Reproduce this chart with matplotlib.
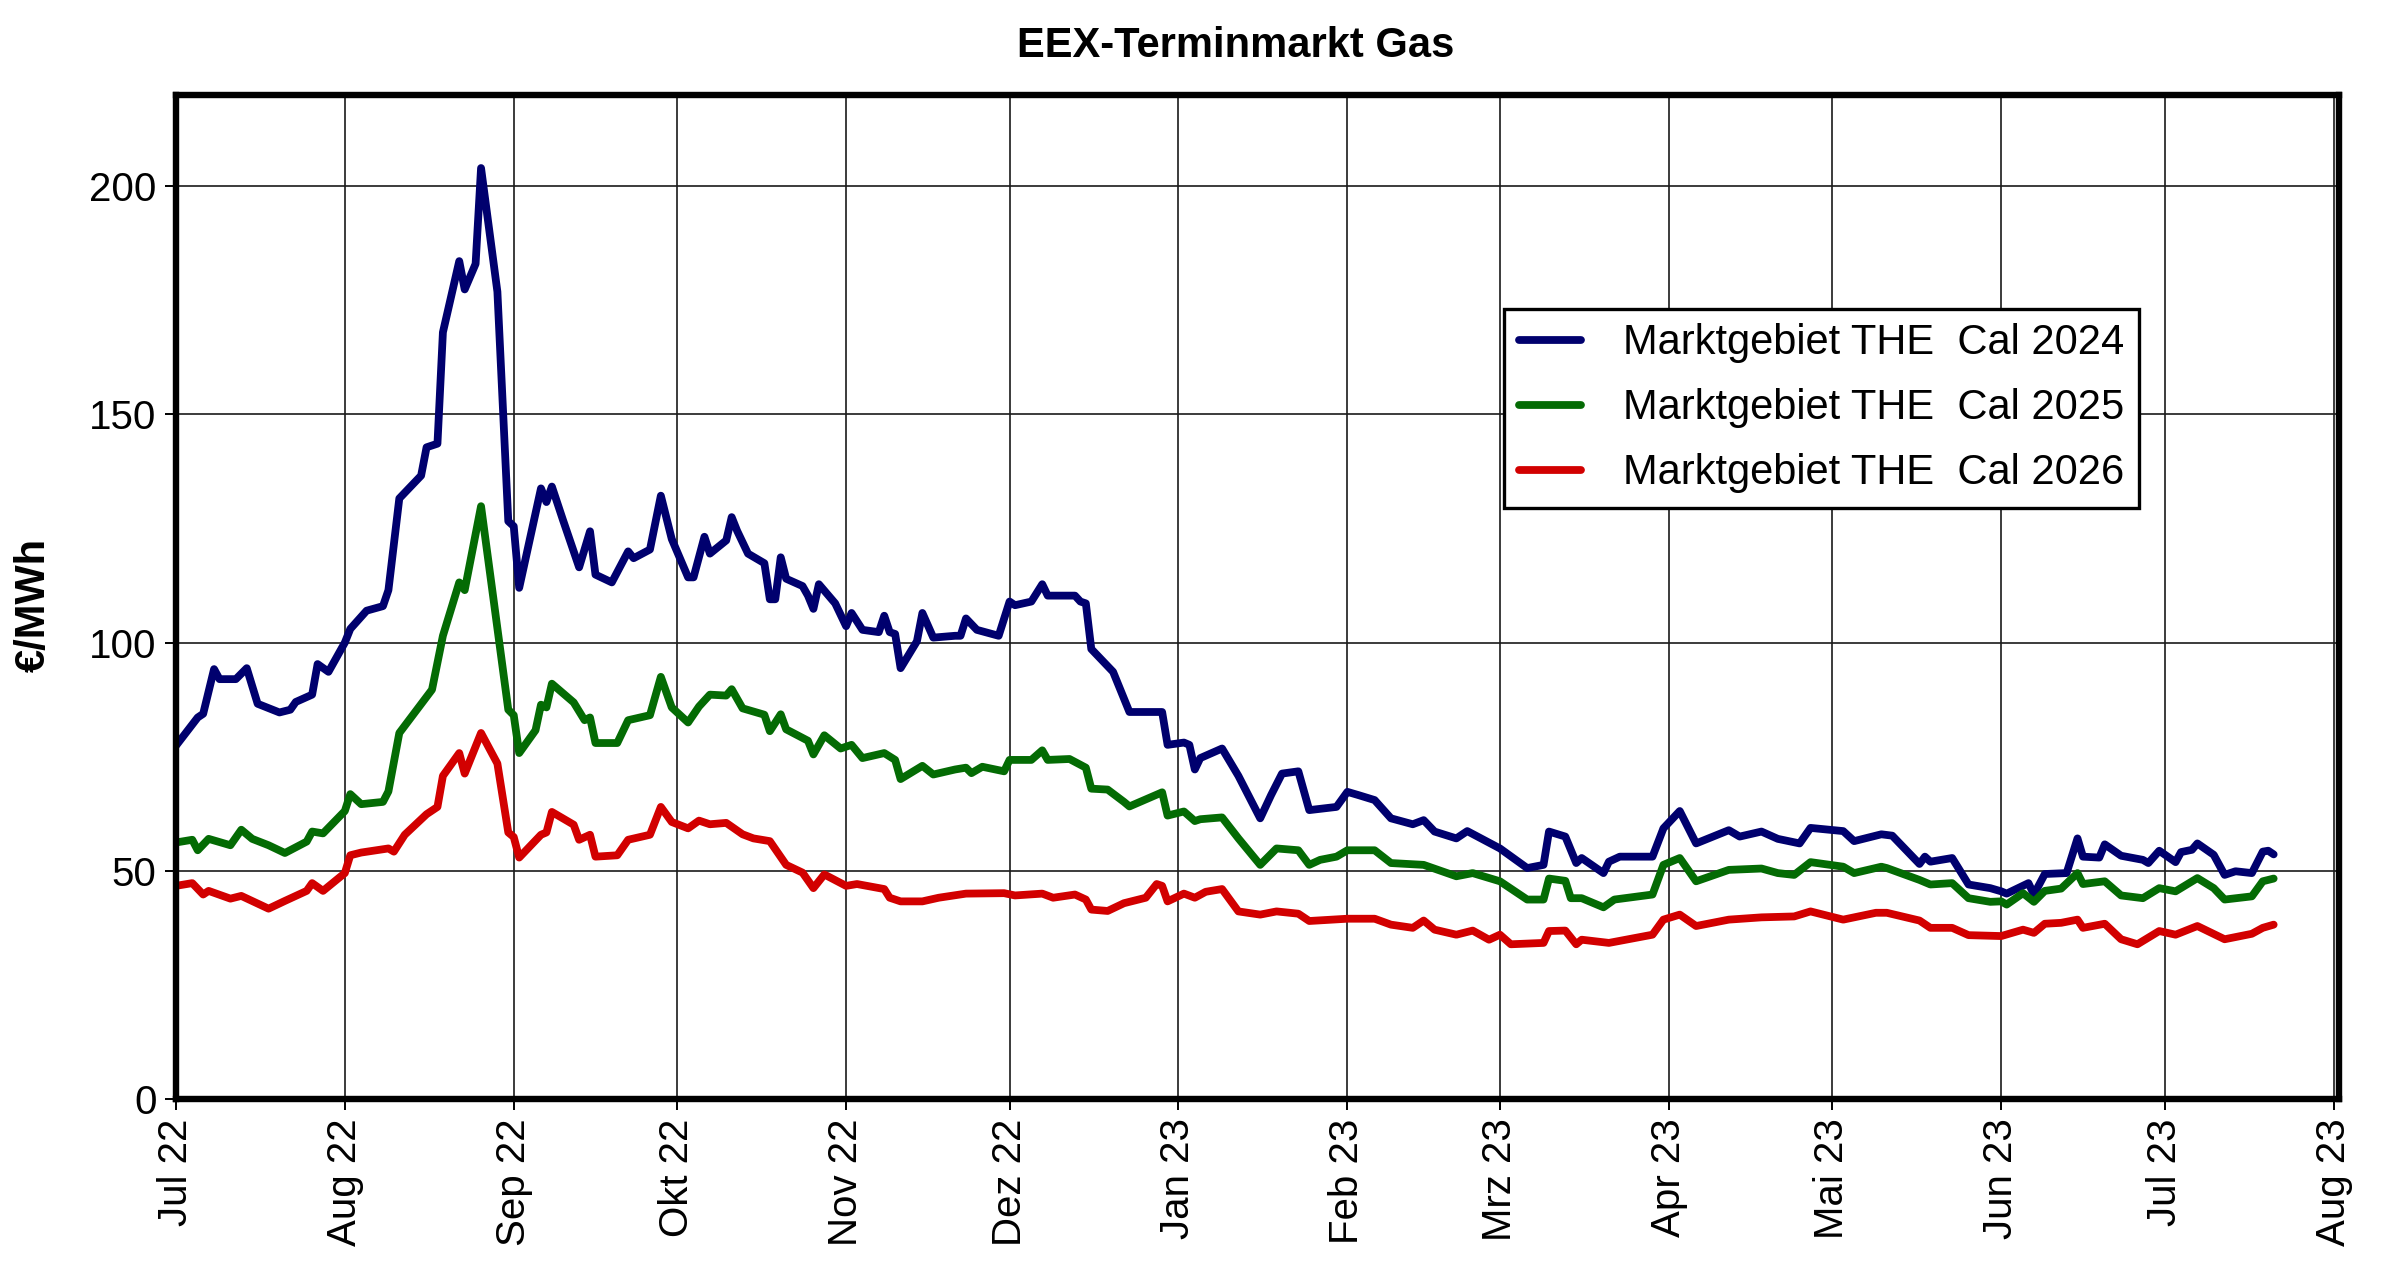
import matplotlib
matplotlib.use("Agg")
import matplotlib.pyplot as plt
import pandas as pd

plt.rcParams['font.family'] = ['Liberation Sans', 'DejaVu Sans']

title = "EEX-Terminmarkt Gas"
y_label = "€/MWh"
series_labels = ["Marktgebiet THE  Cal 2024", "Marktgebiet THE  Cal 2025", "Marktgebiet THE  Cal 2026"]
month_ticks = ["2022-07-01", "2022-08-01", "2022-09-01", "2022-10-01", "2022-11-01", "2022-12-01",
               "2023-01-01", "2023-02-01", "2023-03-01", "2023-04-01", "2023-05-01", "2023-06-01",
               "2023-07-01", "2023-08-01"]
month_labels = ["Jul 22", "Aug 22", "Sep 22", "Okt 22", "Nov 22", "Dez 22", "Jan 23", "Feb 23",
                "Mrz 23", "Apr 23", "Mai 23", "Jun 23", "Jul 23", "Aug 23"]
y_ticks = [0, 50, 100, 150, 200]

cal24_dates = ["2022-07-01", "2022-07-05", "2022-07-06", "2022-07-08", "2022-07-09", "2022-07-12", "2022-07-14",
    "2022-07-16", "2022-07-20", "2022-07-22", "2022-07-23", "2022-07-26", "2022-07-27", "2022-07-29",
    "2022-08-01", "2022-08-02", "2022-08-05", "2022-08-08", "2022-08-09", "2022-08-11", "2022-08-15",
    "2022-08-16", "2022-08-18", "2022-08-19", "2022-08-22", "2022-08-23", "2022-08-25", "2022-08-26",
    "2022-08-29", "2022-08-31", "2022-09-01", "2022-09-02", "2022-09-06", "2022-09-07", "2022-09-08",
    "2022-09-10", "2022-09-13", "2022-09-15", "2022-09-16", "2022-09-19", "2022-09-22", "2022-09-23",
    "2022-09-26", "2022-09-28", "2022-09-30", "2022-10-03", "2022-10-04", "2022-10-06", "2022-10-07",
    "2022-10-10", "2022-10-11", "2022-10-12", "2022-10-14", "2022-10-17", "2022-10-18", "2022-10-19",
    "2022-10-20", "2022-10-21", "2022-10-24", "2022-10-25", "2022-10-26", "2022-10-27", "2022-10-30",
    "2022-11-01", "2022-11-02", "2022-11-04", "2022-11-07", "2022-11-08", "2022-11-09", "2022-11-10",
    "2022-11-11", "2022-11-14", "2022-11-15", "2022-11-17", "2022-11-21", "2022-11-22", "2022-11-23",
    "2022-11-25", "2022-11-29", "2022-12-01", "2022-12-02", "2022-12-05", "2022-12-07", "2022-12-08",
    "2022-12-13", "2022-12-14", "2022-12-15", "2022-12-16", "2022-12-20", "2022-12-23", "2022-12-29",
    "2022-12-30", "2023-01-02", "2023-01-03", "2023-01-04", "2023-01-05", "2023-01-09", "2023-01-12",
    "2023-01-16", "2023-01-18", "2023-01-20", "2023-01-23", "2023-01-25", "2023-01-30", "2023-02-01",
    "2023-02-03", "2023-02-06", "2023-02-09", "2023-02-13", "2023-02-15", "2023-02-17", "2023-02-21",
    "2023-02-23", "2023-03-01", "2023-03-06", "2023-03-09", "2023-03-10", "2023-03-13", "2023-03-15",
    "2023-03-16", "2023-03-20", "2023-03-21", "2023-03-23", "2023-03-29", "2023-03-31", "2023-04-03",
    "2023-04-06", "2023-04-12", "2023-04-14", "2023-04-18", "2023-04-21", "2023-04-25", "2023-04-27",
    "2023-05-03", "2023-05-05", "2023-05-10", "2023-05-12", "2023-05-17", "2023-05-18", "2023-05-19",
    "2023-05-23", "2023-05-26", "2023-05-30", "2023-06-01", "2023-06-02", "2023-06-06", "2023-06-07",
    "2023-06-09", "2023-06-13", "2023-06-15", "2023-06-16", "2023-06-19", "2023-06-20", "2023-06-23",
    "2023-06-27", "2023-06-28", "2023-06-30", "2023-07-03", "2023-07-04", "2023-07-06", "2023-07-07",
    "2023-07-10", "2023-07-12", "2023-07-14", "2023-07-17", "2023-07-19", "2023-07-20", "2023-07-21"]
cal24_values = [77.4, 83.6, 84.4, 94.2, 92.0, 92.0, 94.4,
    86.6, 84.7, 85.3, 87.0, 88.6, 95.3, 93.6,
    100.0, 103.0, 107.0, 108.0, 111.5, 131.6, 136.6,
    142.8, 143.6, 168.0, 183.6, 177.4, 183.0, 204.0,
    176.9, 126.6, 125.5, 112.0, 133.8, 130.8, 134.2,
    127.0, 116.5, 124.4, 114.9, 113.2, 120.0, 118.5,
    120.4, 132.2, 122.7, 114.3, 114.3, 123.2, 119.5,
    122.4, 127.5, 124.5, 119.5, 117.4, 109.5, 109.5,
    118.7, 114.0, 112.4, 110.3, 107.4, 112.8, 108.6,
    103.6, 106.5, 102.8, 102.3, 105.9, 102.3, 101.9,
    94.4, 100.3, 106.5, 101.1, 101.5, 101.5, 105.3,
    102.8, 101.5, 109.0, 108.2, 109.0, 112.8, 110.3,
    110.3, 109.0, 108.6, 98.6, 93.6, 84.8, 84.8,
    77.6, 78.1, 77.6, 72.2, 74.7, 76.8, 70.8,
    61.5, 66.6, 71.3, 71.8, 63.3, 64.0, 67.3,
    66.6, 65.5, 61.5, 60.2, 61.1, 58.6, 57.1,
    58.7, 54.9, 50.6, 51.3, 58.6, 57.5, 51.7,
    52.8, 49.5, 52.0, 53.1, 53.1, 59.3, 63.1,
    56.0, 58.9, 57.5, 58.6, 57.0, 56.0, 59.4,
    58.7, 56.5, 58.0, 57.7, 51.5, 53.1, 52.0,
    52.8, 47.0, 46.2, 45.5, 45.0, 47.3, 44.8,
    49.3, 49.5, 57.1, 53.1, 52.9, 55.8, 53.3,
    52.4, 51.7, 54.4, 51.9, 54.1, 54.6, 56.0,
    53.5, 49.1, 49.9, 49.5, 54.2, 54.4, 53.6]

cal25_dates = ["2022-07-01", "2022-07-04", "2022-07-05", "2022-07-07", "2022-07-11", "2022-07-13", "2022-07-15",
    "2022-07-18", "2022-07-21", "2022-07-25", "2022-07-26", "2022-07-28", "2022-08-01", "2022-08-02",
    "2022-08-04", "2022-08-08", "2022-08-09", "2022-08-11", "2022-08-17", "2022-08-19", "2022-08-22",
    "2022-08-23", "2022-08-26", "2022-08-31", "2022-09-01", "2022-09-02", "2022-09-05", "2022-09-06",
    "2022-09-07", "2022-09-08", "2022-09-12", "2022-09-14", "2022-09-15", "2022-09-16", "2022-09-20",
    "2022-09-22", "2022-09-26", "2022-09-28", "2022-09-30", "2022-10-03", "2022-10-05", "2022-10-07",
    "2022-10-10", "2022-10-11", "2022-10-13", "2022-10-17", "2022-10-18", "2022-10-20", "2022-10-21",
    "2022-10-25", "2022-10-26", "2022-10-28", "2022-10-31", "2022-11-02", "2022-11-04", "2022-11-08",
    "2022-11-10", "2022-11-11", "2022-11-15", "2022-11-17", "2022-11-21", "2022-11-23", "2022-11-24",
    "2022-11-26", "2022-11-30", "2022-12-01", "2022-12-05", "2022-12-07", "2022-12-08", "2022-12-12",
    "2022-12-15", "2022-12-16", "2022-12-19", "2022-12-22", "2022-12-23", "2022-12-29", "2022-12-30",
    "2023-01-02", "2023-01-04", "2023-01-05", "2023-01-09", "2023-01-12", "2023-01-16", "2023-01-19",
    "2023-01-23", "2023-01-25", "2023-01-27", "2023-01-30", "2023-02-01", "2023-02-06", "2023-02-09",
    "2023-02-15", "2023-02-21", "2023-02-24", "2023-03-01", "2023-03-06", "2023-03-09", "2023-03-10",
    "2023-03-13", "2023-03-14", "2023-03-16", "2023-03-20", "2023-03-22", "2023-03-29", "2023-03-31",
    "2023-04-03", "2023-04-06", "2023-04-12", "2023-04-18", "2023-04-21", "2023-04-24", "2023-04-27",
    "2023-05-03", "2023-05-05", "2023-05-10", "2023-05-11", "2023-05-17", "2023-05-19", "2023-05-23",
    "2023-05-26", "2023-05-30", "2023-06-01", "2023-06-02", "2023-06-05", "2023-06-07", "2023-06-09",
    "2023-06-12", "2023-06-15", "2023-06-16", "2023-06-20", "2023-06-23", "2023-06-27", "2023-06-30",
    "2023-07-03", "2023-07-07", "2023-07-10", "2023-07-12", "2023-07-17", "2023-07-19", "2023-07-21"]
cal25_values = [56.2, 56.8, 54.5, 57.0, 55.6, 59.0, 57.0,
    55.6, 53.9, 56.4, 58.6, 58.2, 63.1, 66.8,
    64.6, 65.1, 67.4, 80.2, 89.7, 101.5, 113.2,
    111.5, 129.9, 85.3, 84.1, 75.8, 80.8, 86.4,
    85.8, 91.0, 86.9, 83.0, 83.6, 78.0, 78.0,
    83.0, 84.1, 92.5, 85.8, 82.5, 86.0, 88.6,
    88.4, 89.8, 85.6, 84.2, 80.6, 84.3, 81.0,
    78.5, 75.5, 79.7, 76.8, 77.6, 74.7, 75.8,
    74.3, 70.1, 73.0, 71.1, 72.2, 72.6, 71.4,
    72.8, 71.8, 74.3, 74.3, 76.4, 74.3, 74.5,
    72.6, 68.0, 67.8, 65.1, 64.1, 67.2, 62.1,
    63.0, 60.9, 61.3, 61.7, 57.1, 51.3, 54.9,
    54.5, 51.3, 52.4, 53.1, 54.5, 54.5, 51.7,
    51.3, 48.8, 49.5, 47.7, 43.7, 43.7, 48.3,
    47.8, 44.0, 44.0, 42.0, 43.7, 44.8, 51.3,
    52.8, 47.7, 50.2, 50.5, 49.5, 49.1, 51.9,
    50.9, 49.5, 50.9, 50.6, 48.0, 47.0, 47.3,
    44.0, 43.2, 43.3, 42.6, 45.1, 43.2, 45.6,
    46.1, 49.5, 47.1, 47.7, 44.6, 44.0, 46.2,
    45.5, 48.4, 46.2, 43.7, 44.4, 47.7, 48.3]

cal26_dates = ["2022-07-01", "2022-07-04", "2022-07-06", "2022-07-07", "2022-07-11", "2022-07-13", "2022-07-18",
    "2022-07-21", "2022-07-25", "2022-07-26", "2022-07-28", "2022-08-01", "2022-08-02", "2022-08-04",
    "2022-08-09", "2022-08-10", "2022-08-12", "2022-08-16", "2022-08-18", "2022-08-19", "2022-08-22",
    "2022-08-23", "2022-08-26", "2022-08-29", "2022-08-31", "2022-09-01", "2022-09-02", "2022-09-06",
    "2022-09-07", "2022-09-08", "2022-09-12", "2022-09-13", "2022-09-15", "2022-09-16", "2022-09-20",
    "2022-09-22", "2022-09-26", "2022-09-28", "2022-09-30", "2022-10-03", "2022-10-05", "2022-10-07",
    "2022-10-10", "2022-10-13", "2022-10-15", "2022-10-18", "2022-10-21", "2022-10-24", "2022-10-26",
    "2022-10-28", "2022-11-01", "2022-11-03", "2022-11-08", "2022-11-09", "2022-11-11", "2022-11-15",
    "2022-11-18", "2022-11-23", "2022-11-30", "2022-12-02", "2022-12-07", "2022-12-09", "2022-12-13",
    "2022-12-15", "2022-12-16", "2022-12-19", "2022-12-22", "2022-12-26", "2022-12-28", "2022-12-29",
    "2022-12-30", "2023-01-02", "2023-01-04", "2023-01-06", "2023-01-09", "2023-01-12", "2023-01-16",
    "2023-01-19", "2023-01-23", "2023-01-25", "2023-02-01", "2023-02-06", "2023-02-09", "2023-02-13",
    "2023-02-15", "2023-02-17", "2023-02-21", "2023-02-24", "2023-02-27", "2023-03-01", "2023-03-03",
    "2023-03-09", "2023-03-10", "2023-03-13", "2023-03-15", "2023-03-16", "2023-03-21", "2023-03-29",
    "2023-03-31", "2023-04-03", "2023-04-06", "2023-04-12", "2023-04-18", "2023-04-24", "2023-04-27",
    "2023-05-03", "2023-05-09", "2023-05-11", "2023-05-17", "2023-05-19", "2023-05-23", "2023-05-26",
    "2023-06-01", "2023-06-05", "2023-06-07", "2023-06-09", "2023-06-12", "2023-06-15", "2023-06-16",
    "2023-06-20", "2023-06-23", "2023-06-26", "2023-06-30", "2023-07-03", "2023-07-07", "2023-07-12",
    "2023-07-17", "2023-07-19", "2023-07-21"]
cal26_values = [46.7, 47.3, 44.8, 45.6, 43.9, 44.5, 41.7,
    43.4, 45.6, 47.3, 45.6, 49.5, 53.4, 54.0,
    54.9, 54.2, 57.9, 62.4, 64.0, 70.8, 75.8,
    71.3, 80.2, 73.5, 58.4, 57.4, 52.9, 57.9,
    58.4, 62.9, 60.1, 56.8, 57.9, 53.1, 53.4,
    56.8, 57.9, 64.0, 60.7, 59.3, 61.0, 60.2,
    60.5, 58.0, 57.1, 56.5, 51.3, 49.6, 46.2,
    49.2, 46.7, 47.1, 46.0, 44.1, 43.3, 43.3,
    44.1, 45.0, 45.1, 44.6, 45.0, 44.1, 44.8,
    43.7, 41.5, 41.2, 42.9, 44.1, 47.1, 46.7,
    43.3, 45.0, 44.1, 45.4, 46.0, 41.1, 40.4,
    41.1, 40.6, 39.0, 39.5, 39.5, 38.2, 37.5,
    39.1, 37.1, 36.0, 36.9, 34.9, 36.0, 33.9,
    34.2, 36.8, 36.9, 33.9, 34.9, 34.2, 36.0,
    39.3, 40.4, 37.9, 39.3, 39.8, 40.0, 41.1,
    39.3, 40.8, 40.8, 39.1, 37.5, 37.5, 35.9,
    35.7, 37.1, 36.4, 38.4, 38.6, 39.3, 37.5,
    38.4, 35.0, 33.9, 36.8, 36.0, 37.9, 35.0,
    36.2, 37.5, 38.2]

colors = ["#00006e", "#046b04", "#d20000"]

fig = plt.figure(figsize=(12, 6.42), dpi=200)
ax = fig.add_axes([0.0733, 0.1441, 0.9013, 0.7819])

series = [(cal24_dates, cal24_values), (cal25_dates, cal25_values), (cal26_dates, cal26_values)]
for (d, v), lab, c in zip(series, series_labels, colors):
    ax.plot(pd.to_datetime(d), v, color=c, lw=2.8, label=lab,
            solid_joinstyle='round', solid_capstyle='round', zorder=3)

ax.set_xlim(pd.Timestamp("2022-07-01"), pd.Timestamp("2023-08-02"))
ax.set_ylim(0, 220)
ax.set_xticks(pd.to_datetime(month_ticks))
ax.set_xticklabels(month_labels, rotation=90, fontsize=14.5)
ax.set_yticks(y_ticks)
ax.set_yticklabels([str(t) for t in y_ticks], fontsize=14.5)
ax.tick_params(direction='out', length=4, width=0.7, color='black', pad=3)
ax.grid(True, color='#1a1a1a', lw=0.6, zorder=1)
for s in ax.spines.values():
    s.set_linewidth(2.3)
    s.set_color('black')
    s.set_zorder(4)

leg = ax.legend(loc='upper left', bbox_to_anchor=(0.614, 0.787), borderaxespad=0,
                fontsize=15, frameon=True, fancybox=False, handlelength=1.5,
                handletextpad=1.0, labelspacing=0.6, borderpad=0.35)
leg.get_frame().set_edgecolor('black')
leg.get_frame().set_linewidth(1.2)
leg.get_frame().set_alpha(1)

fig.text(1236 / 2400, 1 - 46 / 1284, title, ha='center', va='center', fontsize=15, fontweight='bold')
fig.text(34 / 2400, 1 - 605 / 1284, y_label, ha='center', va='center', rotation=90,
         fontsize=15, fontweight='bold')

fig.savefig("out.png", dpi=200)
